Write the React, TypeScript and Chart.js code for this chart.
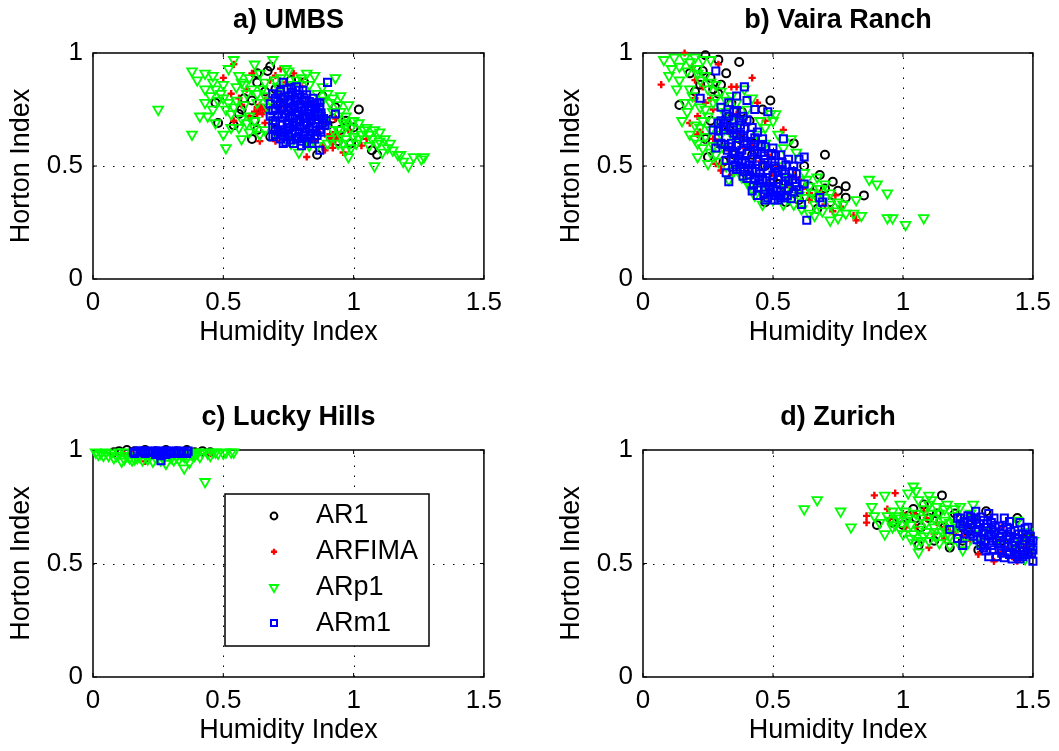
import React, { useEffect, useRef } from "react";
import { Chart, registerables } from "chart.js";
import { drawPoint } from "chart.js/helpers";

Chart.register(...registerables);
Chart.defaults.font.family = '"Liberation Sans", Arial, Helvetica, sans-serif';
Chart.defaults.color = "#000000";

type Pt = [number, number];

// Axis ticks shared by all four panels
const X_TICKS = [0, 0.5, 1, 1.5];
const Y_TICKS = [0, 0.5, 1];
const SERIES_NAMES = ["AR1", "ARFIMA", "ARp1", "ARm1"];

// a) UMBS
const umbsAR1: Pt[] = [
  [0.68, 0.94], [0.67, 0.92], [0.63, 0.87], [0.63, 0.91], [0.76, 0.88], [0.81, 0.87], [0.88, 0.81],
  [1.02, 0.75], [0.47, 0.78], [0.48, 0.69], [0.56, 0.73], [0.61, 0.62], [0.63, 0.66], [0.61, 0.79],
  [0.86, 0.55], [0.97, 0.7], [1.0, 0.67], [0.94, 0.61], [1.07, 0.57], [1.09, 0.55], [0.72, 0.78],
  [0.86, 0.72], [0.9, 0.68], [0.65, 0.75], [0.58, 0.8], [0.7, 0.66], [0.93, 0.76], [0.83, 0.62],
  [0.54, 0.68], [0.99, 0.6], [0.66, 0.83], [0.7, 0.84], [0.78, 0.79], [0.84, 0.76], [0.92, 0.71],
  [0.95, 0.66], [0.62, 0.7], [0.68, 0.63], [0.75, 0.64], [0.57, 0.75],
];
const umbsARFIMA: Pt[] = [
  [0.54, 0.95], [0.5, 0.89], [0.61, 0.91], [0.72, 0.93], [0.77, 0.91], [0.68, 0.88], [0.8, 0.87],
  [0.59, 0.84], [0.54, 0.7], [0.64, 0.61], [0.7, 0.61], [0.82, 0.54], [0.92, 0.58], [0.96, 0.56],
  [0.93, 0.71], [0.64, 0.75], [0.65, 0.73], [0.63, 0.76], [0.92, 0.63], [0.93, 0.65], [0.91, 0.62],
  [0.88, 0.59], [0.89, 0.57], [0.53, 0.82], [0.71, 0.82], [1.05, 0.62], [0.57, 0.77], [0.66, 0.69],
  [0.98, 0.66], [1.03, 0.59], [0.85, 0.61], [0.6, 0.72], [0.62, 0.74], [0.64, 0.77], [0.66, 0.75],
  [0.63, 0.73], [0.65, 0.76], [0.91, 0.64], [0.93, 0.62], [0.92, 0.6], [0.9, 0.63], [0.94, 0.64],
  [0.67, 0.8], [0.74, 0.76], [0.86, 0.66], [0.89, 0.68], [0.56, 0.8], [0.7, 0.9], [0.74, 0.87],
];
const umbsARp1: Pt[] = [
  [0.25, 0.75], [0.38, 0.92], [0.43, 0.91], [0.46, 0.9], [0.54, 0.97], [0.62, 0.95], [0.69, 0.97],
  [0.74, 0.93], [0.75, 0.92], [0.82, 0.91], [0.85, 0.9], [0.93, 0.89], [0.95, 0.81], [0.98, 0.77],
  [0.43, 0.84], [0.47, 0.84], [0.5, 0.86], [0.56, 0.9], [0.57, 0.87], [0.55, 0.85], [0.43, 0.78],
  [0.46, 0.75], [0.41, 0.72], [0.38, 0.64], [0.5, 0.8], [0.51, 0.75], [0.51, 0.58], [0.53, 0.67],
  [0.5, 0.64], [0.56, 0.67], [0.59, 0.82], [0.58, 0.77], [0.63, 0.78], [0.65, 0.84], [0.67, 0.76],
  [0.6, 0.72], [0.68, 0.79], [0.77, 0.86], [0.86, 0.82], [0.88, 0.79], [0.91, 0.78], [0.87, 0.72],
  [0.94, 0.66], [0.96, 0.69], [0.99, 0.67], [0.98, 0.54], [0.97, 0.57], [1.01, 0.6], [1.05, 0.67],
  [1.08, 0.66], [1.1, 0.65], [1.12, 0.62], [1.09, 0.6], [1.11, 0.56], [1.08, 0.5], [1.17, 0.55],
  [1.18, 0.55], [1.21, 0.5], [1.26, 0.53], [1.27, 0.54], [0.79, 0.56], [0.83, 0.59], [0.91, 0.62],
  [0.94, 0.6], [0.76, 0.6], [1.02, 0.62], [1.06, 0.59], [1.0, 0.63], [0.71, 0.85], [0.74, 0.84],
  [0.48, 0.79], [0.53, 0.73], [0.55, 0.79], [0.62, 0.7], [0.66, 0.81], [0.89, 0.7], [0.92, 0.74],
  [1.03, 0.64], [0.97, 0.62], [1.14, 0.6], [0.45, 0.81], [0.52, 0.93], [0.6, 0.89], [0.64, 0.91],
  [0.58, 0.86], [0.61, 0.84], [0.63, 0.82], [0.66, 0.87], [0.7, 0.88], [0.72, 0.89], [0.78, 0.88],
  [0.8, 0.89], [0.83, 0.86], [0.88, 0.85], [0.9, 0.82], [0.92, 0.8], [0.94, 0.77], [0.95, 0.74],
  [0.97, 0.72], [1.0, 0.7], [1.02, 0.69], [1.04, 0.66], [1.06, 0.64], [1.07, 0.62], [1.1, 0.61],
  [1.13, 0.58], [1.15, 0.57], [0.99, 0.58], [0.96, 0.6], [0.9, 0.6], [0.86, 0.59], [0.82, 0.61],
  [0.78, 0.63], [0.74, 0.62], [0.7, 0.64], [0.66, 0.66], [0.62, 0.67], [0.59, 0.69], [0.57, 0.71],
  [0.54, 0.76], [0.52, 0.78], [0.49, 0.82], [0.46, 0.87], [0.4, 0.88], [0.44, 0.72], [0.47, 0.69],
  [0.57, 0.62], [0.6, 0.65], [0.64, 0.64], [0.68, 0.72], [0.92, 0.66], [0.95, 0.64], [0.97, 0.68],
  [1.19, 0.52], [1.23, 0.54],
];
const umbsARm1: Pt[] = [
  [0.9, 0.87], [0.73, 0.87], [0.69, 0.82], [0.93, 0.73], [0.87, 0.78], [0.69, 0.63], [0.73, 0.6],
  [0.8, 0.59], [0.87, 0.57],
  [0.7, 0.8], [0.72, 0.83], [0.745, 0.84], [0.765, 0.825], [0.78, 0.85], [0.805, 0.835], [0.82, 0.815],
  [0.845, 0.8], [0.71, 0.77], [0.73, 0.795], [0.755, 0.78], [0.775, 0.8], [0.795, 0.775], [0.815, 0.79],
  [0.835, 0.765], [0.855, 0.755], [0.875, 0.735], [0.69, 0.745], [0.72, 0.75], [0.74, 0.73], [0.76, 0.755],
  [0.785, 0.74], [0.8, 0.76], [0.825, 0.745], [0.84, 0.72], [0.865, 0.705], [0.885, 0.71], [0.7, 0.7],
  [0.725, 0.715], [0.745, 0.69], [0.765, 0.71], [0.78, 0.695], [0.805, 0.72], [0.82, 0.69], [0.845, 0.675],
  [0.87, 0.66], [0.69, 0.67], [0.71, 0.655], [0.735, 0.645], [0.755, 0.67], [0.775, 0.655], [0.795, 0.675],
  [0.815, 0.65], [0.835, 0.64], [0.86, 0.635], [0.72, 0.62], [0.75, 0.63], [0.78, 0.62], [0.8, 0.61],
  [0.74, 0.605], [0.68, 0.72], [0.68, 0.775], [0.89, 0.68], [0.86, 0.78], [0.77, 0.68], [0.79, 0.73],
  [0.75, 0.81], [0.71, 0.815], [0.735, 0.805], [0.76, 0.79], [0.785, 0.815], [0.81, 0.8], [0.83, 0.785],
  [0.85, 0.775], [0.87, 0.76], [0.7, 0.755], [0.73, 0.76], [0.75, 0.745], [0.77, 0.765], [0.79, 0.755],
  [0.81, 0.745], [0.83, 0.73], [0.85, 0.725], [0.875, 0.72], [0.71, 0.725], [0.735, 0.73], [0.755, 0.715],
  [0.775, 0.725], [0.795, 0.705], [0.815, 0.71], [0.835, 0.7], [0.855, 0.69], [0.88, 0.69], [0.7, 0.685],
  [0.725, 0.68], [0.75, 0.685], [0.77, 0.69], [0.79, 0.695], [0.81, 0.68], [0.83, 0.665], [0.855, 0.655],
  [0.875, 0.65], [0.72, 0.66], [0.745, 0.66], [0.765, 0.645], [0.79, 0.65], [0.81, 0.635], [0.825, 0.625],
  [0.85, 0.62], [0.73, 0.635], [0.76, 0.615], [0.79, 0.63], [0.77, 0.6], [0.82, 0.6], [0.84, 0.6],
  [0.76, 0.845], [0.79, 0.835], [0.72, 0.8], [0.865, 0.735], [0.895, 0.7], [0.69, 0.7], [0.7, 0.64],
];

// b) Vaira Ranch
const vairaAR1: Pt[] = [
  [0.24, 0.99], [0.29, 0.97], [0.37, 0.96], [0.18, 0.91], [0.32, 0.91], [0.14, 0.77], [0.2, 0.83],
  [0.27, 0.84], [0.29, 0.82], [0.49, 0.79], [0.46, 0.75], [0.26, 0.7], [0.25, 0.54], [0.31, 0.52],
  [0.58, 0.6], [0.62, 0.5], [0.7, 0.55], [0.68, 0.46], [0.73, 0.43], [0.78, 0.41], [0.78, 0.36],
  [0.85, 0.37], [0.47, 0.34], [0.55, 0.34], [0.67, 0.31], [0.43, 0.6], [0.35, 0.55], [0.4, 0.46],
  [0.52, 0.42], [0.22, 0.86], [0.33, 0.66], [0.64, 0.41], [0.72, 0.34], [0.58, 0.38], [0.23, 0.92],
  [0.26, 0.89], [0.3, 0.86], [0.34, 0.78], [0.38, 0.74], [0.41, 0.7], [0.37, 0.62], [0.42, 0.55],
  [0.47, 0.5], [0.5, 0.44], [0.55, 0.4], [0.6, 0.35], [0.65, 0.38], [0.7, 0.4], [0.75, 0.39],
  [0.29, 0.6], [0.24, 0.62], [0.32, 0.71],
];
const vairaARFIMA: Pt[] = [
  [0.16, 1.0], [0.29, 0.95], [0.19, 0.94], [0.07, 0.86], [0.2, 0.88], [0.23, 0.85], [0.34, 0.85],
  [0.36, 0.85], [0.42, 0.89], [0.44, 0.78], [0.21, 0.72], [0.21, 0.64], [0.22, 0.65], [0.27, 0.75],
  [0.36, 0.73], [0.47, 0.7], [0.54, 0.66], [0.28, 0.51], [0.3, 0.5], [0.3, 0.48], [0.34, 0.46],
  [0.64, 0.38], [0.74, 0.37], [0.73, 0.3], [0.82, 0.26], [0.81, 0.28], [0.56, 0.42], [0.64, 0.35],
  [0.39, 0.58], [0.45, 0.52], [0.5, 0.47], [0.6, 0.44], [0.26, 0.8], [0.18, 0.69], [0.24, 0.78],
  [0.31, 0.69], [0.37, 0.64], [0.42, 0.59], [0.48, 0.55], [0.52, 0.5], [0.58, 0.46], [0.62, 0.41],
  [0.68, 0.38], [0.7, 0.33], [0.76, 0.32], [0.33, 0.57], [0.27, 0.62], [0.2, 0.8],
];
const vairaARp1: Pt[] = [
  [0.08, 0.97], [0.12, 0.98], [0.16, 0.98], [0.2, 0.98], [0.23, 0.97], [0.26, 0.97], [0.21, 0.93],
  [0.21, 0.91], [0.1, 0.9], [0.14, 0.88], [0.13, 0.84], [0.18, 0.84], [0.26, 0.87], [0.25, 0.84],
  [0.24, 0.75], [0.17, 0.74], [0.15, 0.7], [0.2, 0.68], [0.27, 0.78], [0.29, 0.7], [0.34, 0.81],
  [0.39, 0.84], [0.42, 0.8], [0.49, 0.73], [0.51, 0.73], [0.5, 0.7], [0.2, 0.62], [0.21, 0.6],
  [0.24, 0.63], [0.27, 0.59], [0.21, 0.54], [0.25, 0.51], [0.28, 0.55], [0.57, 0.62], [0.41, 0.41],
  [0.43, 0.37], [0.59, 0.56], [0.63, 0.44], [0.67, 0.45], [0.64, 0.41], [0.72, 0.38], [0.75, 0.34],
  [0.77, 0.33], [0.72, 0.26], [0.75, 0.27], [0.64, 0.29], [0.66, 0.33], [0.58, 0.33], [0.82, 0.35],
  [0.81, 0.29], [0.84, 0.28], [0.87, 0.44], [0.9, 0.42], [0.94, 0.38], [0.94, 0.27], [0.96, 0.27],
  [1.01, 0.24], [1.08, 0.27], [0.67, 0.36], [0.3, 0.64], [0.32, 0.74], [0.28, 0.8], [0.19, 0.78],
  [0.23, 0.7], [0.31, 0.58], [0.35, 0.62], [0.37, 0.52], [0.44, 0.64], [0.47, 0.6], [0.53, 0.5],
  [0.55, 0.4], [0.6, 0.37], [0.7, 0.42], [0.62, 0.47], [0.33, 0.44], [0.46, 0.33], [0.52, 0.36],
  [0.69, 0.3], [0.17, 0.92], [0.36, 0.78], [0.22, 0.88], [0.24, 0.9], [0.28, 0.86], [0.3, 0.83],
  [0.32, 0.79], [0.19, 0.81], [0.16, 0.78], [0.22, 0.76], [0.25, 0.72], [0.22, 0.67], [0.26, 0.66],
  [0.18, 0.64], [0.23, 0.58], [0.26, 0.56], [0.29, 0.52], [0.32, 0.5], [0.35, 0.48], [0.38, 0.45],
  [0.4, 0.43], [0.45, 0.4], [0.48, 0.38], [0.5, 0.35], [0.54, 0.33], [0.56, 0.36], [0.6, 0.4],
  [0.62, 0.36], [0.65, 0.38], [0.68, 0.4], [0.7, 0.36], [0.72, 0.33], [0.74, 0.3], [0.78, 0.29],
  [0.66, 0.28], [0.61, 0.31], [0.56, 0.45], [0.54, 0.58], [0.52, 0.64], [0.47, 0.67], [0.45, 0.7],
  [0.4, 0.75], [0.37, 0.7], [0.33, 0.7], [0.3, 0.76], [0.14, 0.94], [0.11, 0.93], [0.18, 0.96],
];
const vairaARm1: Pt[] = [
  [0.28, 0.92], [0.39, 0.85], [0.22, 0.8], [0.36, 0.81], [0.4, 0.79], [0.48, 0.74], [0.43, 0.75],
  [0.29, 0.69], [0.32, 0.47], [0.33, 0.43], [0.63, 0.26], [0.61, 0.33], [0.62, 0.54], [0.6, 0.53],
  [0.54, 0.62], [0.69, 0.34], [0.68, 0.36], [0.52, 0.35],
  [0.3, 0.7], [0.32, 0.675], [0.345, 0.66], [0.36, 0.635], [0.385, 0.625], [0.4, 0.6], [0.425, 0.585],
  [0.44, 0.555], [0.465, 0.545], [0.48, 0.515], [0.505, 0.5], [0.52, 0.475], [0.545, 0.465], [0.56, 0.435],
  [0.585, 0.425], [0.6, 0.395], [0.33, 0.72], [0.35, 0.705], [0.375, 0.68], [0.39, 0.665], [0.415, 0.64],
  [0.43, 0.625], [0.455, 0.595], [0.47, 0.585], [0.495, 0.555], [0.51, 0.545], [0.535, 0.515], [0.55, 0.505],
  [0.575, 0.475], [0.59, 0.465], [0.29, 0.625], [0.315, 0.595], [0.33, 0.585], [0.355, 0.555], [0.37, 0.545],
  [0.395, 0.515], [0.41, 0.505], [0.435, 0.475], [0.45, 0.465], [0.475, 0.435], [0.49, 0.425], [0.515, 0.395],
  [0.53, 0.385], [0.555, 0.37], [0.57, 0.355], [0.32, 0.525], [0.345, 0.495], [0.36, 0.485], [0.385, 0.455],
  [0.4, 0.445], [0.425, 0.415], [0.44, 0.405], [0.465, 0.375], [0.48, 0.36], [0.505, 0.35], [0.36, 0.745],
  [0.385, 0.72], [0.4, 0.705], [0.3, 0.76], [0.33, 0.78], [0.27, 0.66], [0.28, 0.58], [0.62, 0.42],
  [0.58, 0.5], [0.31, 0.69], [0.335, 0.67], [0.35, 0.645], [0.375, 0.64], [0.39, 0.61], [0.415, 0.595],
  [0.43, 0.57], [0.455, 0.56], [0.47, 0.53], [0.495, 0.52], [0.51, 0.49], [0.535, 0.48], [0.55, 0.45],
  [0.575, 0.44], [0.59, 0.41], [0.3, 0.6], [0.325, 0.57], [0.345, 0.565], [0.365, 0.53], [0.38, 0.52],
  [0.405, 0.49], [0.42, 0.48], [0.445, 0.45], [0.46, 0.44], [0.485, 0.41], [0.5, 0.4], [0.525, 0.37],
  [0.545, 0.36], [0.34, 0.53], [0.355, 0.505], [0.375, 0.495], [0.39, 0.475], [0.41, 0.46], [0.43, 0.44],
  [0.45, 0.425], [0.47, 0.395], [0.49, 0.385], [0.51, 0.37], [0.53, 0.36], [0.34, 0.6], [0.36, 0.59],
  [0.38, 0.57], [0.4, 0.555], [0.42, 0.53], [0.44, 0.52], [0.46, 0.5], [0.48, 0.48], [0.5, 0.46],
  [0.52, 0.44], [0.54, 0.42], [0.56, 0.4], [0.58, 0.385], [0.35, 0.74], [0.37, 0.7], [0.32, 0.73],
  [0.31, 0.66], [0.29, 0.655], [0.42, 0.67], [0.44, 0.65], [0.46, 0.62], [0.5, 0.58], [0.53, 0.55],
  [0.56, 0.53], [0.44, 0.37], [0.47, 0.35], [0.42, 0.39],
];

// c) Lucky Hills
const luckyAR1: Pt[] = [
  [0.1, 0.995], [0.13, 1.0], [0.16, 0.995], [0.2, 1.0], [0.24, 0.995], [0.28, 1.0], [0.32, 0.995],
  [0.36, 1.0], [0.42, 0.995], [0.45, 0.99], [0.08, 0.99], [0.39, 0.99],
];
const luckyARFIMA: Pt[] = [
  [0.2, 0.95], [0.15, 0.985], [0.3, 0.99], [0.25, 0.975], [0.4, 0.99], [0.12, 0.98], [0.35, 0.985],
  [0.22, 0.97], [0.45, 0.985],
];
const luckyARp1: Pt[] = [
  [0.02, 0.98], [0.07, 0.985], [0.11, 0.95], [0.16, 0.96], [0.23, 0.95], [0.28, 0.94], [0.35, 0.92],
  [0.37, 0.945], [0.43, 0.86], [0.46, 0.99], [0.51, 0.99], [0.53, 0.99], [0.32, 0.97], [0.4, 0.985],
  [0.09, 0.975], [0.13, 0.975], [0.18, 0.97], [0.2, 0.985], [0.25, 0.975], [0.3, 0.98], [0.34, 0.975],
  [0.38, 0.98], [0.42, 0.99], [0.44, 0.985], [0.05, 0.99], [0.14, 0.965], [0.19, 0.955], [0.27, 0.965],
  [0.31, 0.955], [0.36, 0.965], [0.41, 0.97], [0.48, 0.985], [0.1, 0.99], [0.22, 0.99], [0.29, 0.99],
  [0.33, 0.99], [0.01, 0.99], [0.03, 0.985], [0.04, 0.975], [0.06, 0.975], [0.08, 0.965], [0.12, 0.96],
  [0.15, 0.955], [0.17, 0.965], [0.21, 0.96], [0.24, 0.965], [0.26, 0.955], [0.3, 0.965], [0.33, 0.96],
  [0.35, 0.97], [0.39, 0.975], [0.45, 0.975], [0.47, 0.99], [0.5, 0.985], [0.54, 0.99], [0.12, 0.99],
  [0.16, 0.99], [0.39, 0.99],
];
const luckyARm1: Pt[] = [
  [0.17, 0.995], [0.19, 0.99], [0.21, 0.995], [0.23, 0.99], [0.25, 0.995], [0.27, 0.99], [0.29, 0.995],
  [0.31, 0.99], [0.33, 0.995], [0.35, 0.99], [0.365, 0.995], [0.26, 0.975], [0.28, 0.98], [0.24, 0.98],
  [0.261, 0.953], [0.2, 0.985], [0.32, 0.985], [0.155, 0.99], [0.16, 0.985], [0.18, 0.995], [0.2, 0.995],
  [0.22, 0.99], [0.24, 0.995], [0.26, 0.99], [0.28, 0.995], [0.3, 0.985], [0.32, 0.995], [0.34, 0.985],
  [0.36, 0.985], [0.25, 0.985], [0.27, 0.98],
];

// d) Zurich
const zurichAR1: Pt[] = [
  [0.9, 0.67], [1.15, 0.8], [1.08, 0.76], [1.04, 0.74], [1.0, 0.67], [1.06, 0.58], [1.12, 0.6],
  [1.32, 0.73], [1.44, 0.7], [1.36, 0.53], [1.29, 0.56], [1.18, 0.57], [1.1, 0.7], [1.2, 0.72],
  [1.25, 0.64], [1.4, 0.62], [1.47, 0.58], [1.16, 0.66], [1.05, 0.7], [1.23, 0.6], [1.02, 0.71],
  [1.07, 0.66], [1.13, 0.72], [1.22, 0.66], [1.27, 0.7], [1.34, 0.65], [1.38, 0.6], [1.43, 0.56],
  [1.48, 0.62], [0.96, 0.68],
];
const zurichARFIMA: Pt[] = [
  [0.89, 0.8], [0.97, 0.81], [0.94, 0.74], [0.86, 0.71], [0.86, 0.68], [1.1, 0.57], [1.08, 0.73],
  [1.16, 0.61], [1.29, 0.54], [1.35, 0.51], [1.44, 0.51], [1.16, 0.66], [1.23, 0.62], [1.04, 0.72],
  [1.13, 0.68], [1.2, 0.63], [1.3, 0.6], [1.41, 0.57], [1.48, 0.55], [1.01, 0.66], [1.38, 0.66],
  [1.46, 0.61], [1.05, 0.66], [1.09, 0.7], [1.12, 0.63], [1.18, 0.64], [1.22, 0.68], [1.26, 0.6],
  [1.32, 0.57], [1.38, 0.55], [1.42, 0.53], [1.47, 0.57], [1.0, 0.72], [0.95, 0.7],
];
const zurichARp1: Pt[] = [
  [0.62, 0.74], [0.67, 0.78], [0.76, 0.73], [0.8, 0.66], [0.88, 0.75], [0.93, 0.8], [1.04, 0.84],
  [1.02, 0.81], [0.93, 0.63], [0.96, 0.66], [1.0, 0.63], [0.98, 0.71], [1.04, 0.63], [1.06, 0.55],
  [1.05, 0.59], [1.08, 0.62], [1.09, 0.68], [1.13, 0.75], [1.17, 0.76], [1.22, 0.75], [1.27, 0.76],
  [1.18, 0.58], [1.23, 0.56], [1.44, 0.69], [1.48, 0.64], [1.5, 0.6], [1.47, 0.52], [1.11, 0.72],
  [1.16, 0.69], [1.2, 0.67], [1.25, 0.65], [1.3, 0.63], [1.36, 0.6], [1.42, 0.58], [1.01, 0.73],
  [1.07, 0.7], [0.95, 0.69], [1.03, 0.67], [1.12, 0.64], [1.14, 0.59], [0.91, 0.68], [0.99, 0.76],
  [1.06, 0.78], [1.1, 0.8], [1.19, 0.71], [1.28, 0.69], [0.96, 0.73], [0.99, 0.7], [1.02, 0.7],
  [1.05, 0.72], [1.08, 0.74], [1.1, 0.76], [1.12, 0.7], [1.14, 0.72], [1.15, 0.67], [1.18, 0.68],
  [1.21, 0.66], [1.24, 0.7], [1.26, 0.72], [1.23, 0.68], [1.17, 0.63], [1.13, 0.62], [1.1, 0.6],
  [1.07, 0.6], [1.03, 0.61], [0.99, 0.65], [0.97, 0.67], [1.01, 0.69], [1.06, 0.65], [1.09, 0.64],
  [1.12, 0.66], [1.15, 0.64], [1.18, 0.62], [1.21, 0.6], [1.25, 0.59], [1.29, 0.59], [1.33, 0.64],
  [1.38, 0.62], [1.45, 0.6], [1.49, 0.57], [1.05, 0.82], [0.94, 0.71], [0.89, 0.71], [1.11, 0.78],
  [1.16, 0.74], [1.2, 0.74],
];
const zurichARm1: Pt[] = [
  [1.18, 0.65], [1.21, 0.7], [1.21, 0.61], [1.23, 0.58], [1.33, 0.53], [1.5, 0.51],
  [1.22, 0.7], [1.25, 0.71], [1.28, 0.695], [1.31, 0.69], [1.34, 0.68], [1.37, 0.665], [1.4, 0.66],
  [1.43, 0.645], [1.46, 0.63], [1.49, 0.62], [1.23, 0.665], [1.26, 0.675], [1.29, 0.65], [1.32, 0.66],
  [1.35, 0.64], [1.38, 0.63], [1.41, 0.62], [1.44, 0.61], [1.47, 0.6], [1.49, 0.58], [1.27, 0.62],
  [1.3, 0.61], [1.33, 0.62], [1.36, 0.6], [1.39, 0.59], [1.42, 0.58], [1.45, 0.57], [1.48, 0.55],
  [1.31, 0.57], [1.34, 0.58], [1.37, 0.56], [1.4, 0.55], [1.43, 0.54], [1.46, 0.53], [1.36, 0.53],
  [1.42, 0.52], [1.24, 0.63], [1.28, 0.73], [1.33, 0.72], [1.39, 0.7], [1.45, 0.68], [1.48, 0.66],
  [1.5, 0.6], [1.5, 0.56], [1.235, 0.685], [1.265, 0.69], [1.295, 0.675], [1.325, 0.675], [1.355, 0.66],
  [1.385, 0.65], [1.415, 0.64], [1.445, 0.63], [1.475, 0.615], [1.25, 0.65], [1.28, 0.64], [1.31, 0.635],
  [1.34, 0.625], [1.37, 0.615], [1.4, 0.605], [1.43, 0.595], [1.46, 0.585], [1.49, 0.6], [1.285, 0.605],
  [1.315, 0.595], [1.345, 0.6], [1.375, 0.585], [1.405, 0.575], [1.435, 0.565], [1.465, 0.555],
  [1.495, 0.545], [1.32, 0.555], [1.35, 0.56], [1.38, 0.545], [1.41, 0.54], [1.44, 0.53], [1.47, 0.54],
  [1.39, 0.525], [1.45, 0.52], [1.26, 0.705], [1.3, 0.705], [1.35, 0.7], [1.41, 0.685], [1.47, 0.655],
  [1.22, 0.675], [1.26, 0.63], [1.3, 0.58],
];

// Marker look of each model, in series order
const MARKERS = [
  { pointStyle: "circle", color: "#000000", radius: 4, width: 2, rotation: 0 },
  { pointStyle: "cross", color: "#ff0000", radius: 3.6, width: 2.4, rotation: 0 },
  { pointStyle: "triangle", color: "#00ff00", radius: 5.6, width: 1.8, rotation: 180 },
  { pointStyle: "rect", color: "#0000ff", radius: 5, width: 2, rotation: 0 },
];

const FONT = '"Liberation Sans", Arial, Helvetica, sans-serif';
const tickLabel = (v: any) => String(v);

// Dotted grid, inward ticks and the axes box
const framePlugin = {
  id: "axesFrame",
  beforeDatasetsDraw(chart: any) {
    const { ctx, chartArea, scales } = chart;
    const { left, right, top, bottom } = chartArea;
    const xs = scales.x;
    const ys = scales.y;
    ctx.save();
    ctx.strokeStyle = "#000000";
    ctx.lineWidth = 1;
    ctx.setLineDash([1.5, 8.5]);
    X_TICKS.slice(1, -1).forEach((v) => {
      const px = Math.round(xs.getPixelForValue(v)) + 0.5;
      ctx.beginPath();
      ctx.moveTo(px, bottom);
      ctx.lineTo(px, top);
      ctx.stroke();
    });
    Y_TICKS.slice(1, -1).forEach((v) => {
      const py = Math.round(ys.getPixelForValue(v)) + 0.5;
      ctx.beginPath();
      ctx.moveTo(left, py);
      ctx.lineTo(right, py);
      ctx.stroke();
    });
    ctx.setLineDash([]);
    X_TICKS.forEach((v) => {
      const px = xs.getPixelForValue(v);
      ctx.beginPath();
      ctx.moveTo(px, bottom);
      ctx.lineTo(px, bottom - 4);
      ctx.moveTo(px, top);
      ctx.lineTo(px, top + 4);
      ctx.stroke();
    });
    Y_TICKS.forEach((v) => {
      const py = ys.getPixelForValue(v);
      ctx.beginPath();
      ctx.moveTo(left, py);
      ctx.lineTo(left + 4, py);
      ctx.moveTo(right, py);
      ctx.lineTo(right - 4, py);
      ctx.stroke();
    });
    ctx.lineWidth = 1.5;
    ctx.strokeRect(left, top, right - left, bottom - top);
    ctx.restore();
  },
};

// Boxed legend inside the plot area
const legendPlugin = {
  id: "boxLegend",
  afterDatasetsDraw(chart: any, _args: any, opts: any) {
    if (!opts || !opts.show) return;
    const { ctx, chartArea } = chart;
    const bx = chartArea.left + 132;
    const by = chartArea.top + 44;
    const bw = 204;
    const bh = 152;
    ctx.save();
    ctx.fillStyle = "#ffffff";
    ctx.fillRect(bx, by, bw, bh);
    ctx.lineWidth = 1.5;
    ctx.strokeStyle = "#000000";
    ctx.strokeRect(bx, by, bw, bh);
    SERIES_NAMES.forEach((name, i) => {
      const m = MARKERS[i];
      const cy = by + 22 + i * 35.7;
      ctx.save();
      ctx.strokeStyle = m.color;
      ctx.fillStyle = "rgba(0,0,0,0)";
      ctx.lineWidth = m.width;
      drawPoint(
        ctx,
        { pointStyle: m.pointStyle as any, rotation: m.rotation, radius: m.radius * 0.85, borderWidth: m.width },
        bx + 49,
        cy
      );
      ctx.restore();
      ctx.fillStyle = "#000000";
      ctx.font = `27px ${FONT}`;
      ctx.textBaseline = "middle";
      ctx.textAlign = "left";
      ctx.fillText(name, bx + 91, cy);
    });
    ctx.restore();
  },
};

type PanelProps = {
  left: number;
  top: number;
  width: number;
  height: number;
  title: string;
  series: Pt[][];
  legend?: boolean;
};

function Panel({ left, top, width, height, title, series, legend }: PanelProps) {
  const ref = useRef<HTMLCanvasElement | null>(null);

  useEffect(() => {
    if (!ref.current) return;
    const datasets = series.map((pts, i) => {
      const m = MARKERS[i];
      return {
        label: SERIES_NAMES[i],
        data: pts.map(([x, y]) => ({ x, y })),
        pointStyle: m.pointStyle,
        pointRadius: m.radius,
        pointHoverRadius: m.radius,
        pointBorderColor: m.color,
        pointBackgroundColor: "rgba(0,0,0,0)",
        pointBorderWidth: m.width,
        pointRotation: m.rotation,
        showLine: false,
        clip: false as any,
        order: 4 - i,
      };
    });
    const chart = new Chart(ref.current, {
      type: "scatter",
      data: { datasets: datasets as any },
      options: {
        animation: false,
        responsive: false,
        devicePixelRatio: 1,
        events: [],
        layout: { padding: { left: 0, right: 26, top: 0, bottom: 0 } },
        scales: {
          x: {
            type: "linear",
            min: 0,
            max: 1.5,
            afterFit: (s: any) => {
              s.height = 70;
            },
            afterBuildTicks: (s: any) => {
              s.ticks = X_TICKS.map((v) => ({ value: v }));
            },
            ticks: {
              padding: 8,
              color: "#000000",
              font: { size: 26, family: FONT },
              maxRotation: 0,
              autoSkip: false,
              callback: tickLabel,
            },
            grid: { display: false, drawTicks: false },
            border: { display: false },
            title: {
              display: true,
              text: "Humidity Index",
              color: "#000000",
              font: { size: 27, family: FONT },
              padding: { top: 0, bottom: 0 },
            },
          },
          y: {
            type: "linear",
            min: 0,
            max: 1,
            afterFit: (s: any) => {
              s.width = 93;
            },
            afterBuildTicks: (s: any) => {
              s.ticks = Y_TICKS.map((v) => ({ value: v }));
            },
            ticks: {
              padding: 10,
              color: "#000000",
              font: { size: 26, family: FONT },
              autoSkip: false,
              callback: tickLabel,
            },
            grid: { display: false, drawTicks: false },
            border: { display: false },
            title: {
              display: true,
              text: "Horton Index",
              color: "#000000",
              font: { size: 27, family: FONT },
              padding: { top: 5, bottom: 0 },
            },
          },
        },
        plugins: {
          legend: { display: false },
          tooltip: { enabled: false },
          title: {
            display: true,
            fullSize: false,
            text: title,
            color: "#000000",
            font: { size: 27, weight: "bold", family: FONT },
            padding: { top: 4.8, bottom: 15.8 },
          },
          boxLegend: { show: !!legend },
        } as any,
      },
      plugins: [framePlugin, legendPlugin],
    });
    return () => chart.destroy();
  }, []);

  return (
    <div style={{ position: "absolute", left, top, width, height }}>
      <canvas ref={ref} width={width} height={height} style={{ width, height, display: "block" }} />
    </div>
  );
}

export default function App() {
  return (
    <div
      style={{
        position: "absolute",
        left: 0,
        top: 0,
        width: 1059,
        height: 751,
        overflow: "hidden",
        background: "#ffffff",
      }}
    >
      <Panel left={0} top={0} width={510} height={349} title="a) UMBS"
        series={[umbsAR1, umbsARFIMA, umbsARp1, umbsARm1]} />
      <Panel left={550} top={0} width={509} height={349} title="b) Vaira Ranch"
        series={[vairaAR1, vairaARFIMA, vairaARp1, vairaARm1]} />
      <Panel left={0} top={397} width={510} height={350} title="c) Lucky Hills"
        series={[luckyAR1, luckyARFIMA, luckyARp1, luckyARm1]} legend />
      <Panel left={550} top={397} width={509} height={350} title="d) Zurich"
        series={[zurichAR1, zurichARFIMA, zurichARp1, zurichARm1]} />
    </div>
  );
}
